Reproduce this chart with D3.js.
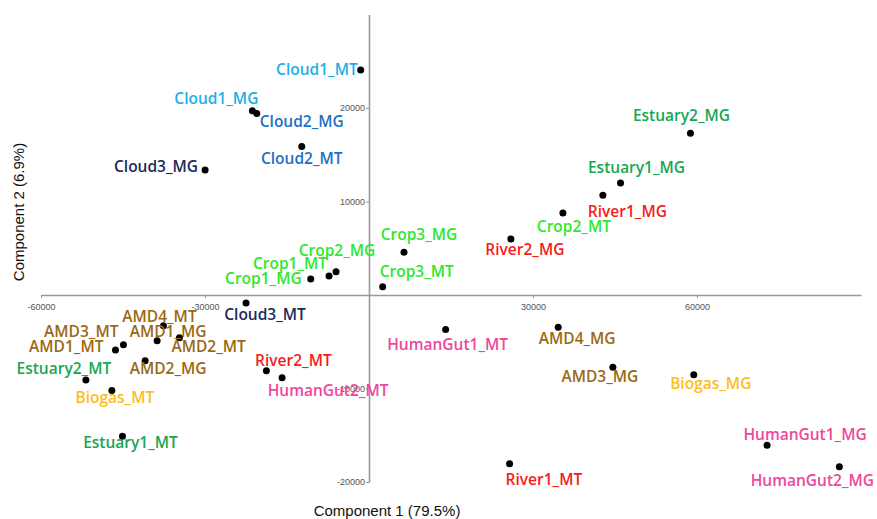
<!DOCTYPE html>
<html>
<head>
<meta charset="utf-8">
<script src="https://cdn.jsdelivr.net/npm/d3@7"></script>
<style>
  body { margin: 0; background: #fff; }
  .lab { font-family: "Open Sans", sans-serif; font-weight: 600; font-size: 15.5px; }
  .tick text { font-family: "Liberation Sans", Arial, sans-serif; font-size: 9px; fill: #555; }
  .title { font-family: "Liberation Sans", Arial, sans-serif; font-size: 15px; fill: #111; }
</style>
</head>
<body>
<div id="plot"></div>
<script>
// sample names, PCA scores (component 1, component 2) and colour group
const names = ["Cloud1_MT","Cloud1_MG","Cloud2_MG","Cloud2_MT","Cloud3_MG","Cloud3_MT",
  "Estuary2_MG","Estuary1_MG","Estuary2_MT","Estuary1_MT",
  "River1_MG","River2_MG","River1_MT","River2_MT",
  "Crop1_MG","Crop1_MT","Crop2_MG","Crop2_MT","Crop3_MG","Crop3_MT",
  "HumanGut1_MG","HumanGut2_MG","HumanGut1_MT","HumanGut2_MT",
  "AMD1_MG","AMD2_MG","AMD3_MG","AMD4_MG","AMD1_MT","AMD2_MT","AMD3_MT","AMD4_MT",
  "Biogas_MG","Biogas_MT"];
const comp1 = [-1520,-21330,-20530,-12300,-29980,-22490,
  58800,46010,-51790,-45100,
  42780,25960,25720,-18770,
  -10660,-7310,-6030,35470,6400,2500,
  72820,86040,14020,-15900,
  -38760,-40950,44610,34610,-46380,-34680,-44920,-37600,
  59410,-47040];
const comp2 = [24060,19700,19410,15880,13380,-860,
  17310,11990,-9100,-15100,
  10670,6000,-18060,-8100,
  1710,2030,2500,8780,4570,890,
  -16060,-18380,-3680,-8850,
  -4890,-7030,-7740,-3460,-5890,-4570,-5320,-3280,
  -8530,-10210];
const groups = ["Cloud1","Cloud1","Cloud2","Cloud2","Cloud3","Cloud3",
  "Estuary","Estuary","Estuary","Estuary",
  "River","River","River","River",
  "Crop","Crop","Crop","Crop","Crop","Crop",
  "HumanGut","HumanGut","HumanGut","HumanGut",
  "AMD","AMD","AMD","AMD","AMD","AMD","AMD","AMD",
  "Biogas","Biogas"];
const xTicks = [-60000, -30000, 30000, 60000];
const yTicks = [-20000, -10000, 10000, 20000];

// label placement next to each point: [anchor, dx, dy]
const labelPlace = [["end",-3,5],["end",6,-7],["start",3,13],["middle",0,17],["end",-7,2],["middle",19,17],
  ["middle",-9,-12],["middle",16,-10],["middle",-22,-6.5],["middle",8,12],
  ["start",-15,22],["middle",14,16],["start",-4,21],["middle",27,-5],
  ["end",-9,5],["end",-2,-7],["middle",1,-16],["middle",11,19],["middle",15,-12],["start",-3,-10],
  ["middle",38,-5],["middle",-27,19],["middle",2,21],["middle",46,18],
  ["middle",11,-4],["middle",23,13],["middle",-13,15],["middle",19,17],["end",-12,2],["start",-8,14],["end",-5,-8],["middle",-4,-4],
  ["middle",17,14],["middle",3,13]];

const w = 877;
const h = 519;

const color = d3.scaleOrdinal()
  .domain(["Cloud1","Cloud2","Cloud3","Estuary","River","Crop","HumanGut","AMD","Biogas"])
  .range(["#1fafe8","#1f70c2","#1c2a5c","#17a752","#f51c1c","#2de82d","#ef469c","#9a6913","#fdbd1c"]);

const xScale = d3.scaleLinear()
  .domain([-60000, 90000])
  .range([41, 861]);

const yScale = d3.scaleLinear()
  .domain([-20000, 30000])
  .range([482, 14.5]);

const svg = d3.select("div#plot")
  .append("svg")
    .attr("width", w)
    .attr("height", h);

svg.append("rect")
  .attr("width", w)
  .attr("height", h)
  .attr("fill", "#fff");

const fmt = d => String(d);

// x-axis through y = 0
svg.append("g")
  .attr("transform", `translate(0, ${yScale(0)})`)
  .call(d3.axisBottom(xScale).tickValues(xTicks).tickFormat(fmt).tickSize(3).tickSizeOuter(0).tickPadding(6));

// y-axis through x = 0
svg.append("g")
  .attr("transform", `translate(${xScale(0)}, 0)`)
  .call(d3.axisLeft(yScale).tickValues(yTicks).tickFormat(fmt).tickSize(3).tickSizeOuter(0).tickPadding(1));

svg.selectAll(".domain").attr("stroke", "#999").attr("stroke-width", 1.6);
svg.selectAll(".tick line").attr("stroke", "#999");

const idx = d3.range(names.length);

svg.selectAll("circle")
  .data(idx)
  .enter()
  .append("circle")
    .attr("cx", i => xScale(comp1[i]))
    .attr("cy", i => yScale(comp2[i]))
    .attr("r", 3.5)
    .attr("fill", "#000");

svg.selectAll("text.lab")
  .data(idx)
  .enter()
  .append("text")
    .attr("class", "lab")
    .attr("x", i => xScale(comp1[i]) + labelPlace[i][1])
    .attr("y", i => yScale(comp2[i]) + labelPlace[i][2])
    .attr("text-anchor", i => labelPlace[i][0])
    .attr("fill", i => color(groups[i]))
    .text(i => names[i]);

// axis titles
svg.append("text")
  .attr("class", "title")
  .attr("x", 387)
  .attr("y", 516)
  .attr("text-anchor", "middle")
  .text("Component 1 (79.5%)");

svg.append("text")
  .attr("class", "title")
  .attr("transform", "rotate(-90)")
  .attr("x", -212)
  .attr("y", 24)
  .attr("text-anchor", "middle")
  .text("Component 2 (6.9%)");
</script>
</body>
</html>
